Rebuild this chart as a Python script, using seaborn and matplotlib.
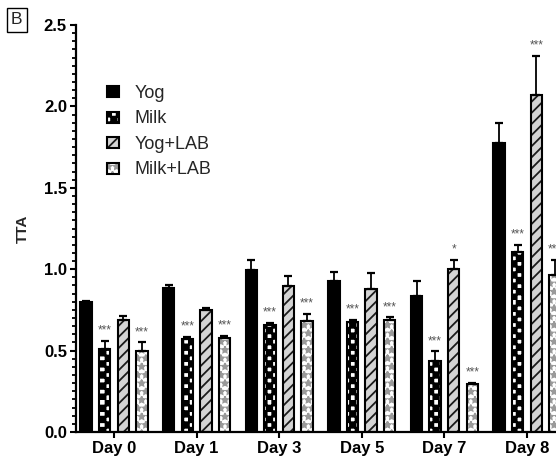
import warnings
import numpy as np
import pandas as pd
import matplotlib
matplotlib.use("Agg")
import matplotlib.pyplot as plt
import matplotlib.hatch as mhatch
import matplotlib.patches as mpatches
from matplotlib.path import Path
from matplotlib.ticker import MultipleLocator, FormatStrFormatter
import seaborn as sns

warnings.filterwarnings("ignore")

# ---- data -------------------------------------------------------------
days = ["Day 0", "Day 1", "Day 3", "Day 5", "Day 7", "Day 8"]
groups = ["Yog", "Milk", "Yog+LAB", "Milk+LAB"]

yog_mean = [0.80, 0.885, 0.995, 0.93, 0.837, 1.777]
yog_sd = [0.006, 0.02, 0.06, 0.053, 0.093, 0.123]
milk_mean = [0.51, 0.573, 0.655, 0.674, 0.438, 1.107]
milk_sd = [0.05, 0.012, 0.017, 0.014, 0.058, 0.042]
yoglab_mean = [0.69, 0.75, 0.897, 0.88, 1.00, 2.07]
yoglab_sd = [0.021, 0.012, 0.063, 0.098, 0.056, 0.24]
milklab_mean = [0.50, 0.577, 0.68, 0.688, 0.295, 0.962]
milklab_sd = [0.05, 0.013, 0.045, 0.016, 0.008, 0.094]

yog_sig = ["", "", "", "", "", ""]
milk_sig = ["***", "***", "***", "***", "***", "***"]
yoglab_sig = ["", "", "", "", "*", "***"]
milklab_sig = ["***", "***", "***", "***", "***", "***"]

means = [yog_mean, milk_mean, yoglab_mean, milklab_mean]
sds = [yog_sd, milk_sd, yoglab_sd, milklab_sd]
sigs = [yog_sig, milk_sig, yoglab_sig, milklab_sig]

df = pd.DataFrame(
    [(d, g, m[i]) for g, m in zip(groups, means) for i, d in enumerate(days)],
    columns=["day", "group", "TTA"],
)


# ---- checkerboard hatch ('c') ----------------------------------------
class CheckerHatch(mhatch.HatchPatternBase):
    def __init__(self, hatch, density):
        self.n = hatch.count("c") * density
        if self.n:
            self.cells = [(i, j) for i in range(self.n) for j in range(self.n)
                          if (i + j) % 2 == 0]
        else:
            self.cells = []
        self.num_vertices = len(self.cells) * 5

    def set_vertices_and_codes(self, vertices, codes):
        s = 1.0 / self.n
        sq = np.array([[0, 0], [s, 0], [s, s], [0, s], [0, 0]])
        sq_codes = [Path.MOVETO, Path.LINETO, Path.LINETO, Path.LINETO,
                    Path.CLOSEPOLY]
        for k, (i, j) in enumerate(self.cells):
            vertices[k * 5:(k + 1) * 5] = sq + [i * s, j * s]
            codes[k * 5:(k + 1) * 5] = sq_codes


mhatch._hatch_types.append(CheckerHatch)

# ---- styles per group --------------------------------------------------
styles = {
    "Yog": dict(facecolor="black", hatch=None, hatchcolor="black"),
    "Milk": dict(facecolor="white", hatch="ccc", hatchcolor="black"),
    "Yog+LAB": dict(facecolor="#d4d4d4", hatch="///", hatchcolor="#1a1a1a"),
    "Milk+LAB": dict(facecolor="white", hatch="**", hatchcolor="#9a9a9a"),
}


def style_patch(p, st):
    p.set_facecolor(st["facecolor"])
    p.set_edgecolor("black")
    p.set_linewidth(1.5)
    if st["hatch"]:
        p.set_hatch(st["hatch"])
    p._hatch_color = matplotlib.colors.to_rgba(st["hatchcolor"])


# ---- figure -----------------------------------------------------------
sns.set_theme(style="ticks")
plt.rcParams["font.family"] = ["Liberation Sans", "DejaVu Sans"]
plt.rcParams["hatch.linewidth"] = 1.3

W, H = 556, 463
fig = plt.figure(figsize=(W / 100, H / 100), dpi=100)
ax = fig.add_axes([76 / W, 31 / H, 480 / W, 407 / H])

sns.barplot(data=df, x="day", y="TTA", hue="group", order=days,
            hue_order=groups, width=0.9, gap=0.38, errorbar=None,
            legend=False, ax=ax, linewidth=1.5, edgecolor="black")

bars = sorted([p for p in ax.patches if isinstance(p, mpatches.Rectangle)],
              key=lambda r: r.get_x())
for k, p in enumerate(bars):
    di, gi = divmod(k, len(groups))
    style_patch(p, styles[groups[gi]])
    xc = p.get_x() + p.get_width() / 2
    m = means[gi][di]
    e = sds[gi][di]
    ax.errorbar([xc], [m], yerr=[[0], [e]], fmt="none", ecolor="black",
                elinewidth=1.3, capsize=3.2, capthick=1.6, zorder=3)
    if sigs[gi][di]:
        ax.annotate(sigs[gi][di], (xc, m + e), xytext=(0, 3),
                    textcoords="offset points", ha="center", va="bottom",
                    fontsize=8.5, color="#555555", annotation_clip=False)

ax.set_xlim(-0.46, (W - 114) / 82.6)
ax.set_ylim(0, 2.5)
ax.yaxis.set_major_locator(MultipleLocator(0.5))
ax.yaxis.set_minor_locator(MultipleLocator(0.05))
ax.yaxis.set_major_formatter(FormatStrFormatter("%.1f"))

sns.despine(ax=ax)
for sp in ["left", "bottom"]:
    ax.spines[sp].set_linewidth(1.6)
    ax.spines[sp].set_color("black")
ax.tick_params(axis="both", which="major", length=4, width=1.5,
               colors="black", labelsize=12, pad=2.5)
ax.tick_params(axis="y", which="minor", length=2.8, width=1.3, colors="black")
for lab in ax.get_xticklabels() + ax.get_yticklabels():
    lab.set_fontweight("bold")
ax.set_xlabel("")
ax.set_ylabel("TTA", fontsize=11, fontweight="bold", labelpad=10)
ax.grid(False)

# legend
handles = []
for g in groups:
    h = mpatches.Patch(label=g)
    style_patch(h, styles[g])
    handles.append(h)
ax.legend(handles=handles, loc="upper left",
          bbox_to_anchor=((107 - 76) / 480, (432 - 85) / 407),
          frameon=False, borderpad=0, borderaxespad=0, fontsize=13,
          handlelength=0.67, handleheight=0.55, handletextpad=0.85,
          labelspacing=0.47)

# panel letter
fig.text(11 / W, 1 - 20 / H, "B", fontsize=12.5, ha="left", va="center",
         bbox=dict(boxstyle="square,pad=0.25", facecolor="white",
                   edgecolor="black", linewidth=1.0))

fig.savefig("out.png", dpi=100)
